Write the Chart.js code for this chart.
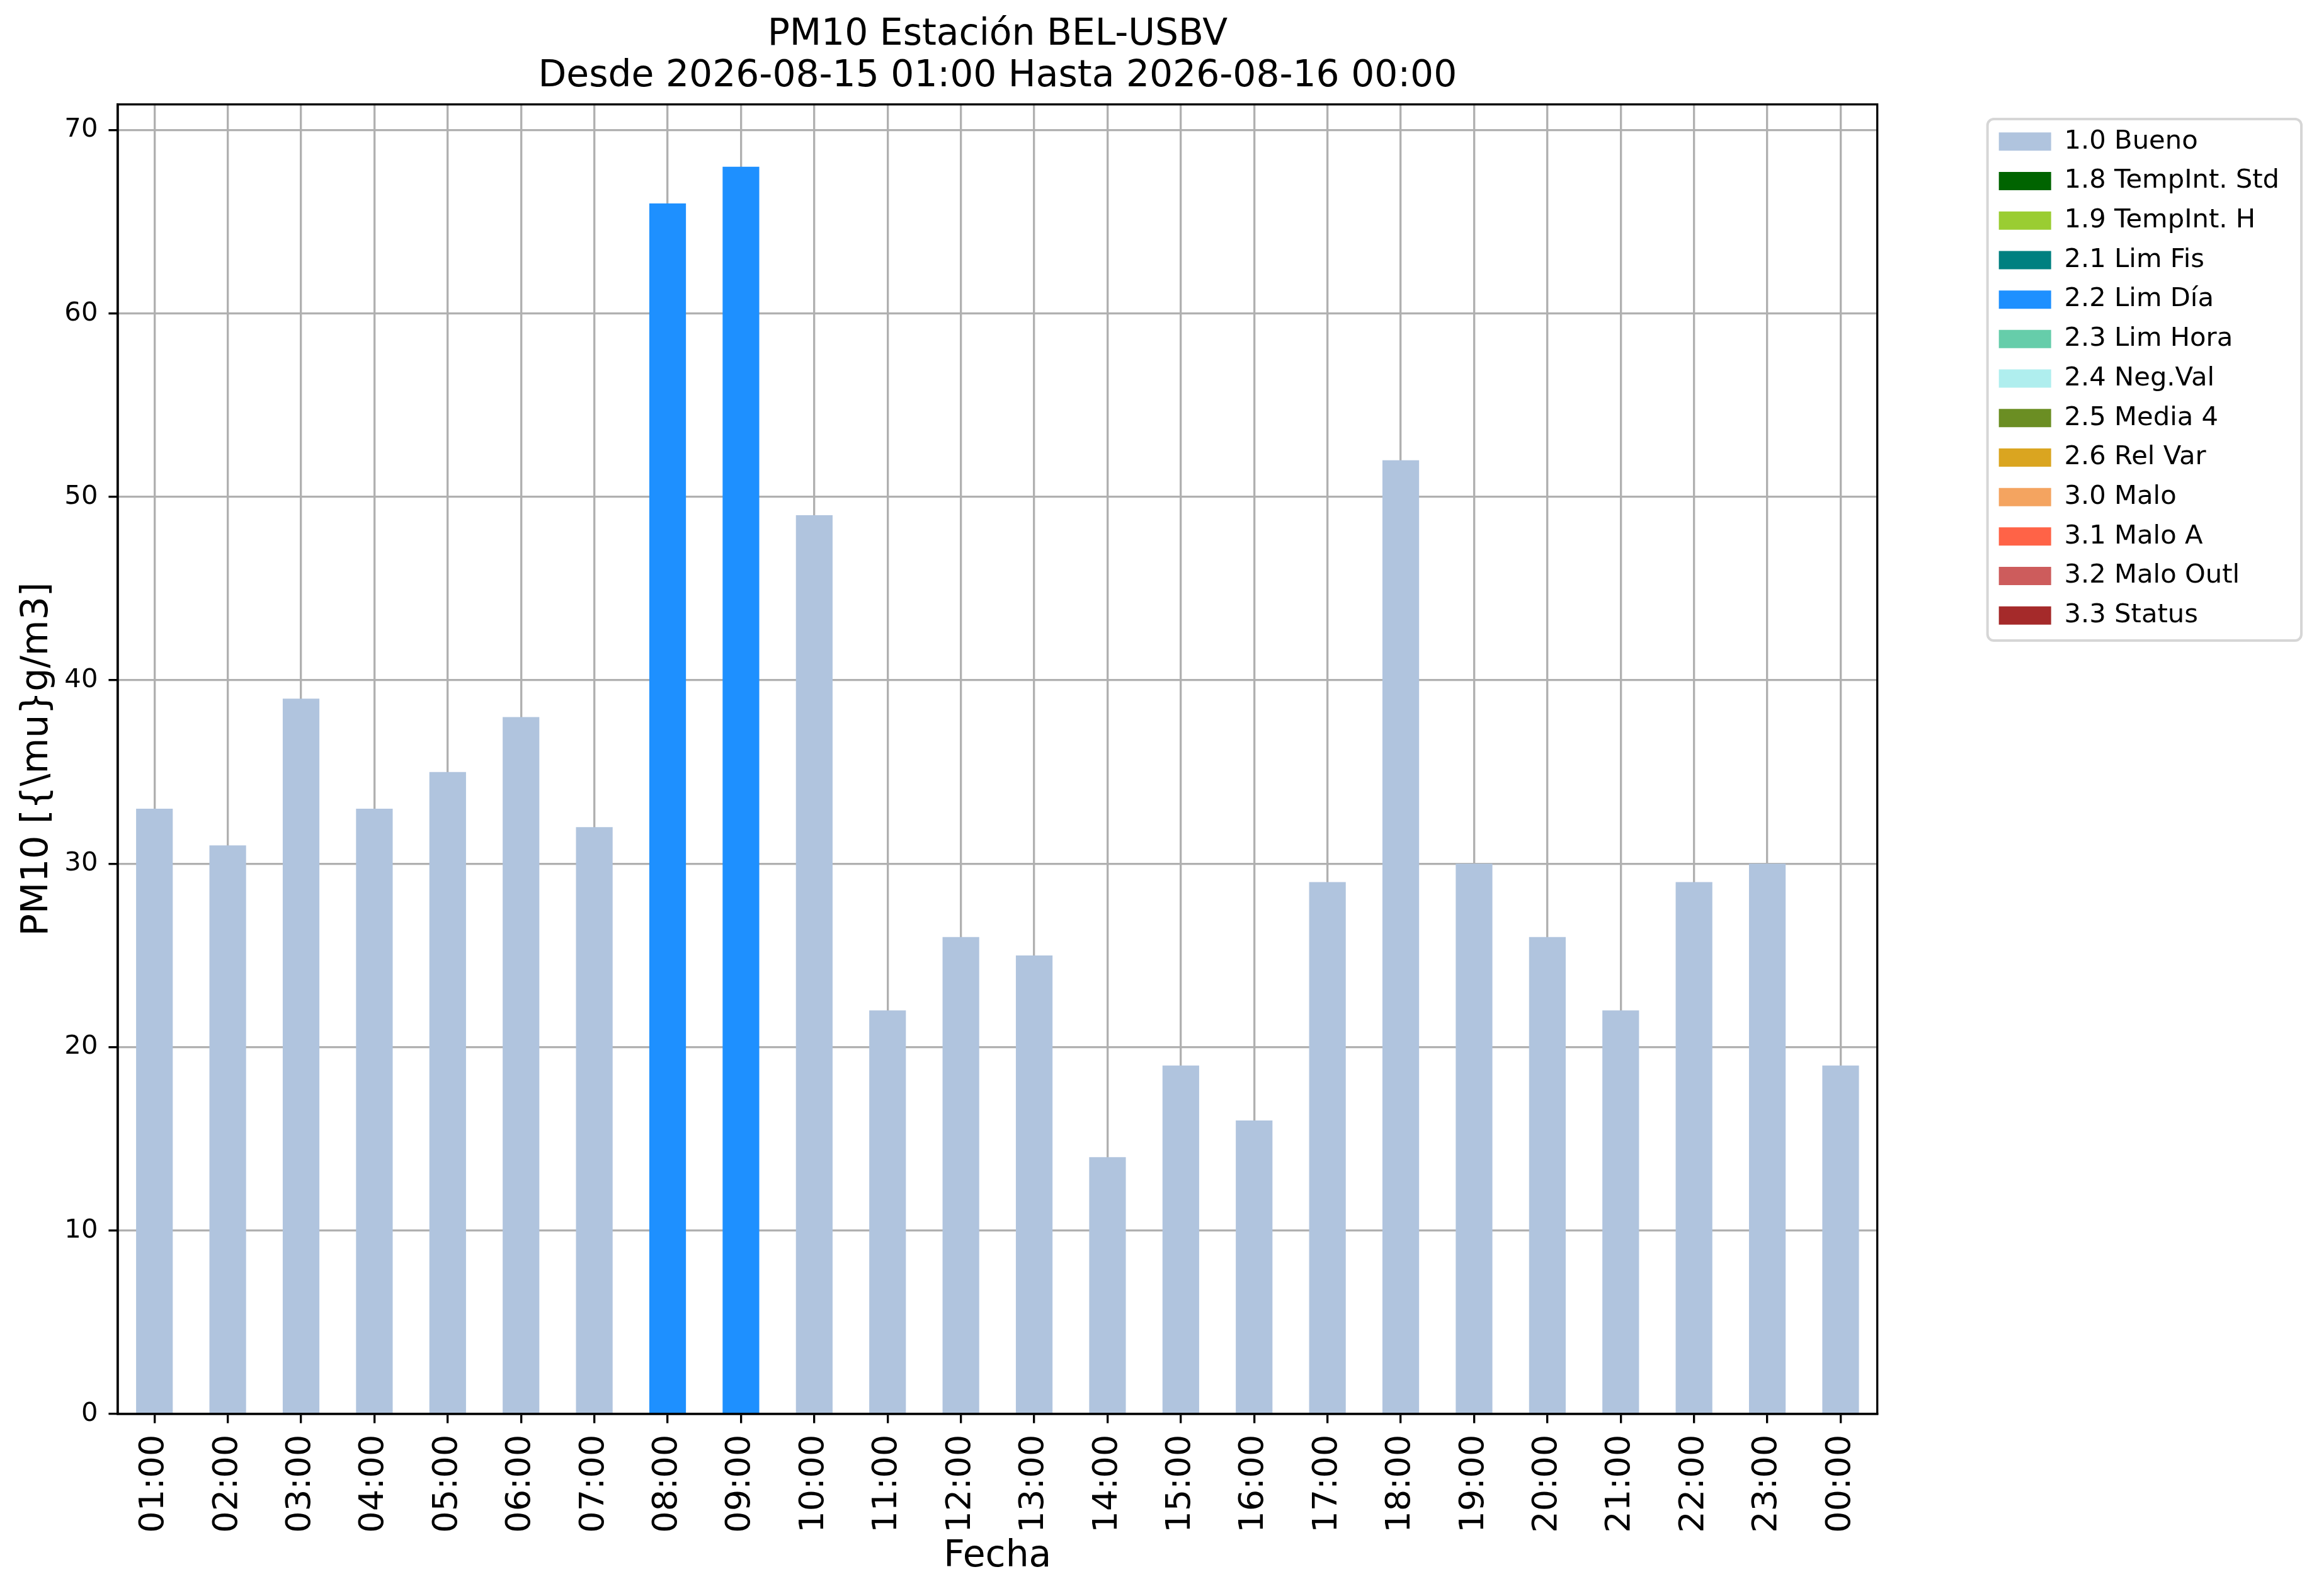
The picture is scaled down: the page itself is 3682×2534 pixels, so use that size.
<!DOCTYPE html>
<html>
<head>
<meta charset="utf-8">
<script src="https://cdn.jsdelivr.net/npm/chart.js@4.4.0/dist/chart.umd.min.js"></script>
<style>
html, body { margin: 0; padding: 0; background: #ffffff; }
#wrap { width: 3682px; height: 2534px; }
</style>
</head>
<body>
<div id="wrap"><canvas id="c" width="3682" height="2534"></canvas></div>
<script>
// ---- data ----
const hours = ['01:00','02:00','03:00','04:00','05:00','06:00','07:00','08:00','09:00','10:00','11:00','12:00',
               '13:00','14:00','15:00','16:00','17:00','18:00','19:00','20:00','21:00','22:00','23:00','00:00'];
const pm10 = [33,31,39,33,35,38,32,66,68,49,22,26,25,14,19,16,29,52,30,26,22,29,30,19];
const flags = ['1.0','1.0','1.0','1.0','1.0','1.0','1.0','2.2','2.2','1.0','1.0','1.0',
               '1.0','1.0','1.0','1.0','1.0','1.0','1.0','1.0','1.0','1.0','1.0','1.0'];
const flagCodes = ['1.0','1.8','1.9','2.1','2.2','2.3','2.4','2.5','2.6','3.0','3.1','3.2','3.3'];
const flagNames = ['1.0 Bueno','1.8 TempInt. Std','1.9 TempInt. H','2.1 Lim Fis','2.2 Lim Día','2.3 Lim Hora',
                   '2.4 Neg.Val','2.5 Media 4','2.6 Rel Var','3.0 Malo','3.1 Malo A','3.2 Malo Outl','3.3 Status'];
const flagColors = ['#b0c4de','#006400','#9acd32','#008080','#1e90ff','#66cdaa',
                    '#afeeee','#6b8e23','#daa520','#f4a460','#ff6347','#cd5c5c','#a52a2a'];
const titleLines = ['PM10 Estación BEL-USBV','Desde 2026-08-15 01:00 Hasta 2026-08-16 00:00'];
const xTitle = 'Fecha';
const yTitle = 'PM10 [{\\mu}g/m3]';
const yMin = 0, yMax = 71.4, yStep = 10;

// ---- style ----
const FONT = 'DejaVu Sans';
const LW = 3.33;
Chart.defaults.font.family = FONT;
Chart.defaults.color = '#000000';

const datasets = flagCodes.map((code, i) => ({
  label: flagNames[i],
  data: pm10.map((v, j) => flags[j] === code ? v : null),
  backgroundColor: flagColors[i],
  borderWidth: 0,
  barPercentage: 0.5,
  categoryPercentage: 1.0
}));

const framePlugin = {
  id: 'frames',
  afterDraw(chart) {
    const ctx = chart.ctx;
    const a = chart.chartArea;
    ctx.save();
    ctx.strokeStyle = '#000000';
    ctx.lineWidth = LW;
    ctx.strokeRect(a.left, a.top, a.right - a.left, a.bottom - a.top);
    const hb = chart.legend && chart.legend.legendHitBoxes;
    if (hb && hb.length) {
      const l = hb[0].left - 18;
      const t = hb[0].top - 15;
      const r = Math.max(...hb.map(h => h.left + h.width)) + 35;
      const last = hb[hb.length - 1];
      const b = last.top + last.height + 19;
      ctx.strokeStyle = '#d6d6d6';
      ctx.lineWidth = 4;
      ctx.beginPath();
      if (ctx.roundRect) ctx.roundRect(l, t, r - l, b - t, 10); else ctx.rect(l, t, r - l, b - t);
      ctx.stroke();
    }
    ctx.restore();
  }
};

new Chart(document.getElementById('c'), {
  type: 'bar',
  data: { labels: hours, datasets: datasets },
  options: {
    responsive: false,
    devicePixelRatio: 1,
    animation: false,
    layout: { padding: { left: 0, right: 53, top: 0, bottom: 0 } },
    plugins: {
      tooltip: { enabled: false },
      title: {
        display: true,
        text: titleLines,
        fullSize: false,
        color: '#000000',
        font: { family: FONT, size: 58.3, weight: 'normal', lineHeight: 1.13 },
        padding: { top: 23, bottom: 11 }
      },
      legend: {
        display: true,
        position: 'right',
        align: 'start',
        title: { display: true, text: '', padding: { top: 176, bottom: 6 }, font: { size: 1, lineHeight: 1 } },
        labels: {
          color: '#000000',
          font: { family: FONT, size: 41.7 },
          boxWidth: 83,
          boxHeight: 29,
          padding: 21
        }
      }
    },
    scales: {
      x: {
        type: 'category',
        stacked: true,
        offset: true,
        z: 1,
        grid: { display: true, offset: false, color: '#b0b0b0', lineWidth: LW,
                tickColor: '#000000', tickWidth: LW, tickLength: 14.6, drawTicks: true },
        border: { display: true, color: '#000000', width: LW },
        ticks: { color: '#000000', font: { family: FONT, size: 54.2 }, minRotation: 90, maxRotation: 90,
                 autoSkip: false, padding: 18 },
        title: { display: true, text: xTitle, color: '#000000',
                 font: { family: FONT, size: 58.3, lineHeight: 1.2 }, padding: { top: 0, bottom: 27 } },
        afterFit(s) { s.height = 289; }
      },
      y: {
        type: 'linear',
        stacked: true,
        min: yMin,
        max: yMax,
        z: 1,
        grid: { display: true, color: '#b0b0b0', lineWidth: LW,
                tickColor: '#000000', tickWidth: LW, tickLength: 14.6, drawTicks: true },
        border: { display: true, color: '#000000', width: LW },
        ticks: { stepSize: yStep, includeBounds: false, color: '#000000',
                 font: { family: FONT, size: 41.7 }, padding: 17 },
        title: { display: true, text: yTitle, color: '#000000',
                 font: { family: FONT, size: 58.3, lineHeight: 1.2 }, padding: { top: 25, bottom: 0 } },
        afterFit(s) { s.width = 187; }
      },
      gap: {
        type: 'linear',
        position: 'right',
        display: true,
        grid: { display: false, drawTicks: false },
        border: { display: false },
        ticks: { display: false },
        afterFit(s) { s.width = 172; }
      }
    }
  },
  plugins: [framePlugin]
});
</script>
</body>
</html>
